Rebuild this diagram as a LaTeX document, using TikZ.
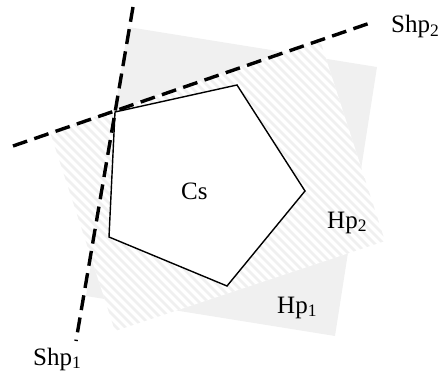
\documentclass[tikz,border=0pt]{standalone}
\usepackage{fontspec}
\setmainfont{Liberation Serif}
\begin{document}
\begin{tikzpicture}[x=1pt,y=-1pt,
  halfline/.style={line width=3.4pt,dash pattern=on 15pt off 7.5pt},
  polyline/.style={line width=1.4pt,line join=miter},
  lbl/.style={inner sep=0pt,anchor=base west,font=\fontsize{25}{29}\selectfont},
  solidregion/.style={fill=black!6,draw=none},
  stripe/.style={draw=black!6,line width=2.6pt}]
\useasboundingbox (0,0) rectangle (444,377);
% Hp1 region (solid light gray)
\coordinate (hpa1) at (128,27);
\coordinate (hpa2) at (377,67);
\coordinate (hpa3) at (335,336);
\coordinate (hpa4) at (86,296);
\fill[solidregion] (hpa1) -- (hpa2) -- (hpa3) -- (hpa4) -- cycle;
% Hp2 region (hatched)
\coordinate (hpb1) at (50,132);
\coordinate (hpb2) at (320,40);
\coordinate (hpb3) at (385,241);
\coordinate (hpb4) at (115,331);
\begin{scope}
  \clip (hpb1) -- (hpb2) -- (hpb3) -- (hpb4) -- cycle;
  \fill[white] (0,0) rectangle (444,377);
  \foreach \i in {-400,-391,...,450} {
    \draw[stripe] (\i,0) -- (\i+400,400);
  }
\end{scope}
% pentagon Cs
\coordinate (p1) at (115,112);
\coordinate (p2) at (237,85);
\coordinate (p3) at (305,191);
\coordinate (p4) at (227,286);
\coordinate (p5) at (109,237);
\draw[polyline,fill=white] (p1) -- (p2) -- (p3) -- (p4) -- (p5) -- cycle;
% supporting lines
\coordinate (s1a) at (133,7);
\coordinate (s1b) at (76,341);
\coordinate (s2a) at (13,146);
\coordinate (s2b) at (373,22);
\draw[halfline] (s1a) -- (s1b);
\draw[halfline] (s2a) -- (s2b);
% labels
\node[lbl] (lshp2) at (391,33) {Shp\textsubscript{2}};
\node[lbl] (lshp1) at (33,365) {Shp\textsubscript{1}};
\node[lbl] (lcs) at (181,199) {Cs};
\node[lbl] (lhp2) at (327,228) {Hp\textsubscript{2}};
\node[lbl] (lhp1) at (277,313) {Hp\textsubscript{1}};
\end{tikzpicture}
\end{document}
